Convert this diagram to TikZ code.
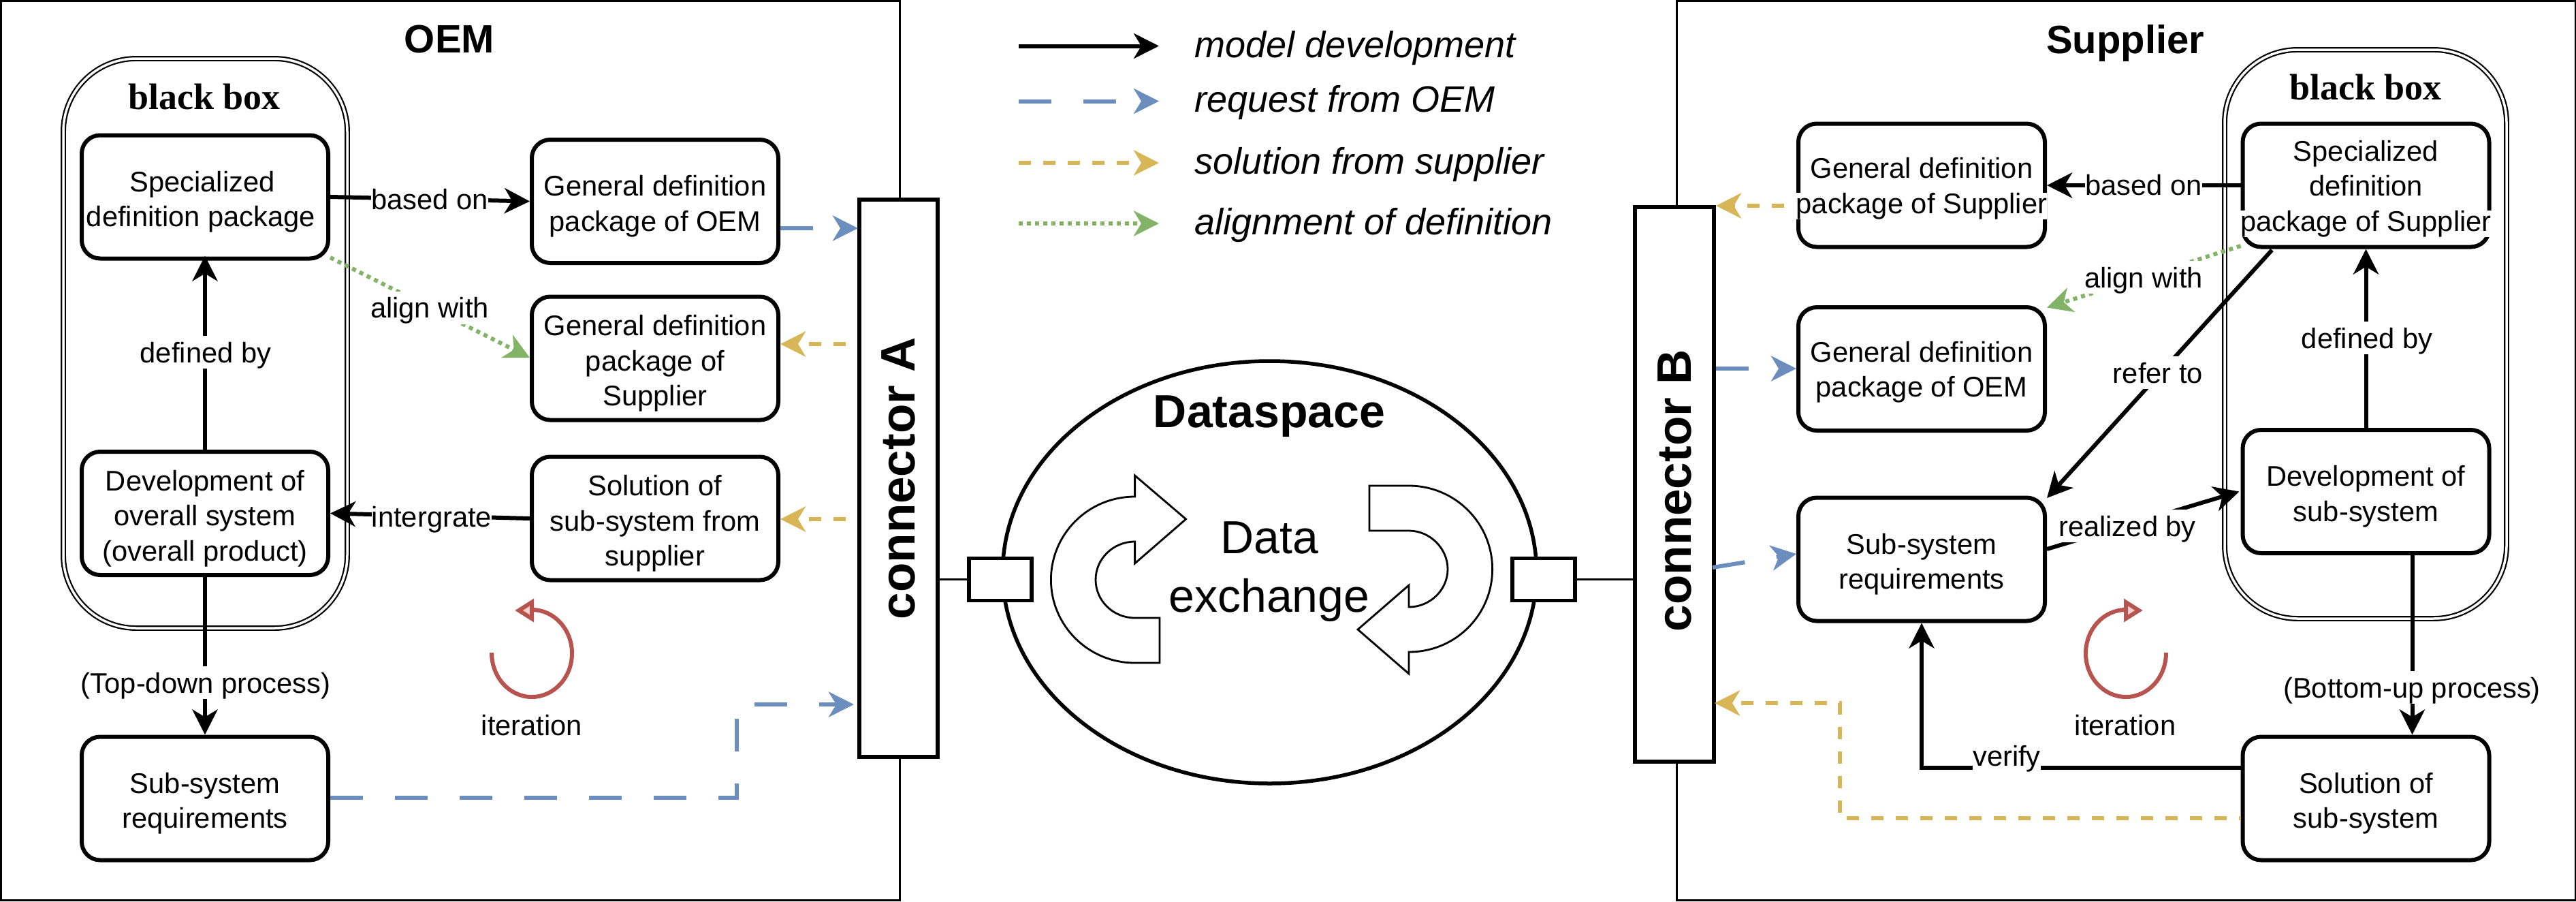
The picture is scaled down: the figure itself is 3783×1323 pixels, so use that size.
\documentclass[tikz,border=0pt]{standalone}
\usepackage{fontspec}
\setmainfont{Liberation Sans}
\newfontfamily\serifb{Liberation Serif}
\usetikzlibrary{arrows.meta,shapes.geometric}
\definecolor{cblue}{HTML}{6C8EBF}
\definecolor{cyel}{HTML}{D6B656}
\definecolor{cgreen}{HTML}{82B366}
\definecolor{cred}{HTML}{B85450}
\definecolor{cpink}{HTML}{F8CECC}
\newcommand{\fs}[1]{\fontsize{#1pt}{#1pt}\selectfont}
\newcommand{\txt}{\fontsize{41.7pt}{51.5pt}\selectfont}
\newcommand{\ovl}[1]{\makebox[0pt]{\setlength{\fboxsep}{0pt}\colorbox{white}{#1}}}
\newcommand{\up}{\rule{0pt}{45pt}}
\newcommand{\upb}{\rule{0pt}{40pt}}
\tikzset{
  x=1pt,y=-1pt,
  frame/.style={draw,line width=3pt,inner sep=0pt},
  bbox/.style={draw,double,double distance=3.5pt,line width=2.2pt,rounded corners=107pt,inner sep=0pt},
  mbox/.style={draw,line width=6pt,rounded corners=27pt,minimum width=362pt,minimum height=181pt,inner sep=0pt,align=center,font=\txt,fill=white},
  conn/.style={draw,line width=6.5pt,fill=white,rotate=90,inner sep=0pt,font=\fs{71}\bfseries},
  port/.style={draw,line width=5.5pt,fill=white,minimum width=92pt,minimum height=62pt,inner sep=0pt},
  lab/.style={fill=white,inner xsep=0pt,inner ysep=9pt,text height=30pt,text depth=0pt,font=\txt},
  plain/.style={inner sep=0pt,font=\txt,align=center},
  title/.style={inner sep=0pt,text depth=0pt,font=\fs{58}\bfseries},
  bbt/.style={inner sep=0pt,font=\fs{54}\serifb\bfseries},
  leg/.style={inner sep=0pt,anchor=base west,font=\fs{54}\itshape},
  tipk/.style={-{Stealth[length=37pt,width=37pt,inset=11pt]}},
  kline/.style={tipk,line width=6pt,black},
  bline/.style={tipk,line width=6pt,cblue,dash pattern=on 48pt off 47pt},
  yline/.style={tipk,line width=6pt,cyel,dash pattern=on 18pt off 18pt},
  gline/.style={tipk,line width=6pt,cgreen,dash pattern=on 6pt off 6pt},
  thin/.style={line width=3pt},
  bigarrow/.style={draw,line width=2.8pt,fill=white,line join=miter},
  iter/.style={draw=cred,line width=6pt},
  itip/.style={draw=cred,line width=6pt,fill=cpink,line join=miter},
}
\begin{document}
\begin{tikzpicture}
\useasboundingbox (0,0) rectangle (3783,1323);
% frames
\node[frame,minimum width=1320pt,minimum height=1320pt] (oem) at (661,661.5) {};
\node[frame,minimum width=1320pt,minimum height=1320pt] (sup) at (3122,661.5) {};
\node[title] (oemt) at (660,57) {OEM};
\node[title] (supt) at (3121,57) {Supplier};
% black boxes
\node[bbox,minimum width=417pt,minimum height=836pt] (bbl) at (301.5,504) {};
\node[bbox,minimum width=414pt,minimum height=835pt] (bbr) at (3474,490.5) {};
\node[bbt] (bblt) at (300,142) {black box};
\node[bbt] (bbrt) at (3474,128) {black box};
% left boxes
\node[mbox] (spl) at (301,289) {\up\hspace*{-8pt}Specialized\\\hspace*{-12pt}definition package};
\node[mbox] (gdo) at (962,295.5) {\up General definition\\package of OEM};
\node[mbox] (gds) at (962,526) {\up General definition\\package of\\Supplier};
\node[mbox] (sol) at (962,761) {\up Solution of\\sub-system from\\supplier};
\node[mbox] (dev) at (301,753.5) {\up Development of\\overall system\\(overall product)};
\node[mbox] (req) at (301,1172) {\up Sub-system\\requirements};
% right boxes
\node[mbox] (rgds) at (2822,272) {\upb General definition\\\ovl{package of Supplier}};
\node[mbox] (rgdo) at (2822,541.5) {\upb General definition\\package of OEM};
\node[mbox] (rreq) at (2822,821) {\up Sub-system\\requirements};
\node[mbox] (rspl) at (3474.5,272) {\upb Specialized\\definition\\\ovl{package of Supplier}};
\node[mbox] (rdev) at (3474.5,721.5) {\up Development of\\sub-system};
\node[mbox] (rsol) at (3474.5,1172) {\up Solution of\\sub-system};
% connectors
\node[conn,minimum width=818pt,minimum height=115pt] (ca) at (1319.5,702) {connector A};
\node[conn,minimum width=814pt,minimum height=116pt] (cb) at (2459,711) {connector B\hspace*{18pt}};
% dataspace
\node[draw,line width=5.5pt,ellipse,minimum width=784pt,minimum height=620pt,inner sep=0pt] (ds) at (1864.5,840) {};
\node[port] (pl) at (1469,850.5) {};
\node[port] (pr) at (2267,850.5) {};
\draw[thin] (ca.south |- pl) -- (pl.west);
\draw[thin] (pr.east) -- (cb.north |- pr);
\node[inner sep=0pt,font=\fs{68}\bfseries] (dst) at (1864,611) {Dataspace};
\node[inner sep=0pt,align=center,font=\fontsize{68pt}{86pt}\selectfont] (dex) at (1864,839) {Data\\exchange};
% circular arrows
\path[bigarrow] (1741.6,762) -- (1666.6,698) -- (1666.6,729)
  .. controls (1598,729) and (1543.4,784) .. (1543.4,851)
  .. controls (1543.4,918) and (1598,973) .. (1666.6,973)
  -- (1703,973) -- (1703,907) -- (1666.6,907)
  .. controls (1635,907) and (1609,882) .. (1609,851)
  .. controls (1609,820) and (1635,795) .. (1666.6,795)
  -- (1666.6,827) -- cycle;
\path[bigarrow] (2011,713) -- (2069,713)
  .. controls (2137,713) and (2191.6,768) .. (2191.6,835.4)
  .. controls (2191.6,903) and (2137,957) .. (2069,957)
  -- (2069,989) -- (1994,924) -- (2069,859) -- (2069,891)
  .. controls (2100,891) and (2126,866) .. (2126,835.4)
  .. controls (2126,805) and (2100,779) .. (2069,779)
  -- (2011,779) -- cycle;
% named free ends
\coordinate (ca1) at (1260,335);
\coordinate (ca2) at (1260,505);
\coordinate (ca3) at (1260,762);
\coordinate (ca4) at (1254,1034);
\coordinate (r1) at (1082,1171);
\coordinate (r2) at (1082,1034);
\coordinate (cb1) at (2520,302);
\coordinate (cb2) at (2520,541);
\coordinate (cb3) at (2515,833);
\coordinate (cb4) at (2518,1032);
\coordinate (y1) at (2702,1201);
\coordinate (y2) at (2702,1032);
\coordinate (v1) at (2822,1126.5);
% left edges
\draw[kline] (spl.east) -- (gdo.west);
\draw[kline] (sol.west) -- (dev.east);
\draw[kline,shorten >=-7pt] (dev.north) -- (spl.south);
\draw[kline] (dev.south) -- (req.north);
\draw[gline] ([yshift=-89pt]spl.east) -- ([yshift=1pt]gds.west);
\draw[bline] ([yshift=-39.5pt]gdo.east) -- (ca1);
\draw[yline,dash phase=18pt] (ca2) -- (gds.east |- ca2);
\draw[yline,dash phase=18pt] (ca3) -- (sol.east |- ca3);
\draw[bline] (req.east |- r1) -- (r1) -- (r2) -- (ca4);
% right edges
\draw[kline] (rspl.west) -- (rgds.east);
\draw[gline] ([yshift=-89pt]rspl.west) -- ([yshift=90pt]rgdo.east);
\draw[kline] ([xshift=-138pt,yshift=-95pt]rspl.center) -- ([yshift=90pt]rreq.east);
\draw[kline] ([yshift=15pt]rreq.east) -- ([xshift=-2pt]rdev.west);
\draw[kline] (rdev.north) -- (rspl.south);
\draw[kline] ([xshift=68pt]rdev.south) -- ([xshift=68pt]rsol.north);
\draw[kline] (rsol.west |- v1) -- (v1) -- (rreq.south);
\draw[yline,dash phase=15pt] ([yshift=-29pt]rsol.west) -- (y1) -- (y2) -- (cb4);
\draw[yline,dash phase=18pt] ([yshift=-30pt]rgds.west) -- (cb1);
\draw[bline] (cb2) -- (rgdo.west |- cb2);
\draw[bline] (cb3) -- ([yshift=8pt]rreq.west);
% labels
\node[lab] (l1) at (631,292) {based on};
\node[lab] (l2) at (631,451.5) {align with};
\node[lab] (l3) at (634,758) {intergrate};
\node[lab] (l4) at (302,517) {defined by};
\node[lab] (l5) at (302,1002) {(Top-down process)};
\node[lab] (l6) at (3148,271) {based on};
\node[lab] (l7) at (3148,407) {align with};
\node[lab] (l8) at (3169,547) {refer to};
\node[lab] (l9) at (3124,772) {realized by};
\node[lab] (l10) at (3476,496) {defined by};
\node[lab] (l11) at (3542,1009) {(Bottom-up process)};
\node[lab] (l12) at (2947,1109) {verify};
% iteration
\draw[iter] (722,958) .. controls (722,994.3) and (748.4,1023) .. (781,1023)
  .. controls (813.6,1023) and (840,994.3) .. (840,959)
  .. controls (840,923.7) and (813.6,895) .. (781,895);
\path[itip] (762,896) -- (781,884) -- (781,908) -- cycle;
\draw[iter] (3181,958) .. controls (3181,994.3) and (3154.6,1023) .. (3122,1023)
  .. controls (3089.4,1023) and (3063,994.3) .. (3063,959)
  .. controls (3063,923.7) and (3089.4,895) .. (3122,895);
\path[itip] (3141,896) -- (3122,884) -- (3122,908) -- cycle;
\node[plain] (it1) at (781,1065) {iteration};
\node[plain] (it2) at (3121,1065) {iteration};
% legend
\coordinate (a1) at (1496,67.5);\coordinate (b1) at (1702,67.5);
\coordinate (a2) at (1496,148.5);\coordinate (b2) at (1702,148.5);
\coordinate (a3) at (1496,239);\coordinate (b3) at (1702,239);
\coordinate (a4) at (1496,328);\coordinate (b4) at (1702,328);
\draw[kline] (a1) -- (b1);
\draw[bline] (a2) -- (b2);
\draw[yline] (a3) -- (b3);
\draw[gline] (a4) -- (b4);
\node[leg] (t1) at (1754,84) {model development};
\node[leg] (t2) at (1754,164.5) {request from OEM};
\node[leg] (t3) at (1754,255) {solution from supplier};
\node[leg] (t4) at (1754,344) {alignment of definition};
\end{tikzpicture}
\end{document}
